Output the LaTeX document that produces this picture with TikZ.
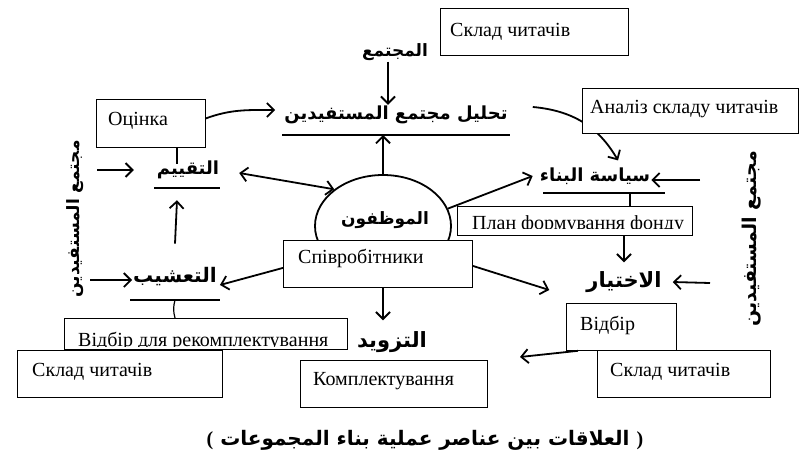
\documentclass[tikz,border=0pt]{standalone}
\usepackage{fontspec}
\setmainfont{Liberation Serif}
\newfontfamily\arabicfont[Script=Arabic, BoldFont={DejaVu Sans Bold}]{DejaVu Sans}
\TeXXeTstate=1
\usetikzlibrary{arrows.meta,shapes.geometric,calc}

\begin{document}
\begin{tikzpicture}[x=1pt, y=1pt,
    box/.style={draw, fill=white, line width=0.8pt, anchor=north west, inner sep=0pt},
    cyr/.style={anchor=base west, inner sep=0pt, font=\fontsize{20}{20}\selectfont},
    arab/.style={inner sep=1pt, font=\arabicfont\bfseries\fontsize{#1}{#1}\selectfont},
    conn/.style={line width=\linethic, -{Straight Barb[length=7pt, width=14pt]}},
    uline/.style={line width=1.2pt}]
    %--------------------%
    % Parameters
    %--------------------%
    \def\linethic{1.8pt}

    \useasboundingbox (0,0) rectangle (803,-455);

    %--------------------%
    % Staff circle
    %--------------------%
    \node[draw, ellipse, line width=\linethic, minimum width=136, minimum height=102, inner sep=0pt] (circ) at (383,-226) {};

    %--------------------%
    % Arabic labels
    %--------------------%
    \node[arab=17] (mujtama) at (395,-52) {\beginR المجتمع\endR};
    \node[arab=18] (tahlil) at (396,-115) {\beginR تحليل مجتمع المستفيدين\endR};
    \node[arab=18] (taqyim) at (188,-170) {\beginR التقييم\endR};
    \node[arab=17] (muwazzaf) at (385,-220) {\beginR الموظفون\endR};
    \node[arab=18] (siyasa) at (595,-176) {\beginR سياسة البناء\endR};
    \node[arab=20] (tashib) at (175,-277) {\beginR التعشيب\endR};
    \node[arab=21] (tazwid) at (392,-342) {\beginR التزويد\endR};
    \node[arab=21] (ikhtiyar) at (624,-282) {\beginR الاختيار\endR};
    \node[arab=17, rotate=90] (vleft) at (75,-219) {\beginR مجتمع المستفيدين\endR};
    \node[arab=19, rotate=90] (vright) at (752,-239) {\beginR مجتمع المستفيدين\endR};
    \node[arab=20] (title) at (425,-440) {{\rmfamily (}\ \beginR العلاقات بين عناصر عملية بناء المجموعات\endR\ {\rmfamily )}};

    % Underlines
    \coordinate (tahlilL) at (282,-135);  \coordinate (tahlilR) at (510,-135);
    \coordinate (taqyimL) at (154,-188);  \coordinate (taqyimR) at (220,-188);
    \coordinate (siyasaL) at (543,-193);  \coordinate (siyasaR) at (665,-193);
    \coordinate (tashibL) at (130,-300);  \coordinate (tashibR) at (220,-300);
    \coordinate (tashibM) at (175,-300);
    \draw[uline] (tahlilL) -- (tahlilR);
    \draw[uline] (taqyimL) -- (taqyimR);
    \draw[uline] (siyasaL) -- (siyasaR);
    \draw[uline] (tashibL) -- (tashibR);

    % Analysis to policy (runs behind the box)
    \draw[conn] ([xshift=24pt, yshift=8pt]tahlil.east) to[out=-5, in=120] ([xshift=23pt, yshift=6pt]siyasa.north);

    %--------------------%
    % Ukrainian boxes
    %--------------------%
    \node[box, minimum width=188, minimum height=47] (skladtopbox) at (440,-8) {};
    \node[box, minimum width=216, minimum height=45] (analizbox) at (582,-88) {};
    \node[box, minimum width=109, minimum height=48] (ocinkabox) at (96,-99) {};
    \node[box, minimum width=235, minimum height=29] (planbox) at (457,-206) {};
    \node[box, minimum width=189, minimum height=47] (spivrobbox) at (283,-240) {};
    \node[box, minimum width=283, minimum height=31] (vidbirrekbox) at (64,-318) {};
    \node[box, minimum width=205, minimum height=47] (skladleftbox) at (17,-350) {};
    \node[box, minimum width=187, minimum height=47] (komplbox) at (300,-360) {};
    \node[box, minimum width=110, minimum height=47] (vidbirbox) at (566,-303) {};
    \node[box, minimum width=173, minimum height=47] (skladrightbox) at (597,-350) {};

    \node[cyr] (skladtop) at (450,-36.5) {Склад читачів};
    \node[cyr] (analiz) at (590,-113) {Аналіз складу читачів};
    \node[cyr] (ocinka) at (108,-125) {Оцінка};
    \node[cyr] (spivrob) at (298,-263) {Співробітники};
    \node[cyr] (skladleft) at (32,-376) {Склад читачів};
    \node[cyr] (kompl) at (313,-385) {Комплектування};
    \node[cyr] (vidbir) at (580,-330) {Відбір};
    \node[cyr] (skladright) at (610,-376) {Склад читачів};
    \begin{scope}
        \clip (planbox.north west) rectangle ([yshift=7pt]planbox.south east);
        \node[cyr] (plan) at (472,-229) {План формування фонду};
    \end{scope}
    \begin{scope}
        \clip (vidbirrekbox.north west) rectangle ([yshift=3.5pt]vidbirrekbox.south east);
        \node[cyr] (vidbirrek) at (78,-346.5) {Відбір для рекомплектування};
    \end{scope}

    %--------------------%
    % Connections
    %--------------------%
    \coordinate (taqyimin) at (97,-170);
    \coordinate (tashibin) at (90,-280);
    \coordinate (siyasain) at (700,-180);
    \coordinate (ikhtiyarin) at (710,-283);
    \coordinate (vidbirout) at (520,-357);

    \draw[conn] ([xshift=-7pt]mujtama.south) -- ([xshift=-8pt]tahlil.north);
    \draw[conn] (circ.north) -- (circ.north |- tahlilL);
    \draw[conn] ([yshift=5pt]ocinkabox.east) to[out=20, in=180] ([xshift=-8pt, yshift=5pt]tahlil.west);
    \draw[conn, {Straight Barb[length=7pt, width=14pt]}-{Straight Barb[length=7pt, width=14pt]}] ([xshift=19pt, yshift=-3pt]taqyim.east) -- (circ.143);
    \draw[conn] (circ.15) -- ([xshift=-6pt]siyasa.west);
    \draw[conn] (siyasain) -- ([yshift=-4pt]siyasa.east);
    \draw[conn] (taqyimin) -- ([xshift=-22pt]taqyim.west);
    \draw[conn] (tashibin) -- ([yshift=-3pt]tashib.west);
    \draw[conn] (ikhtiyarin) -- ([xshift=10pt]ikhtiyar.east);
    \draw[conn] ([yshift=23pt]tashib.north) -- ([xshift=-11pt, yshift=-20pt]taqyim.south);
    \draw[conn] ([yshift=-4pt]spivrobbox.west) -- ([xshift=2pt, yshift=-8pt]tashib.east);
    \draw[conn] (spivrobbox.south -| circ.north) -- ([yshift=10pt]tazwid.north -| circ.north);
    \draw[conn] ([yshift=-2pt]spivrobbox.east) -- ([xshift=-36pt, yshift=-8pt]ikhtiyar.west);
    \draw[conn] (planbox.south -| ikhtiyar.north) -- ([yshift=8pt]ikhtiyar.north);
    \draw[conn] ([xshift=12pt]vidbirbox.south west) -- (vidbirout);

    % Ticks to the boxes
    \draw[uline] ([xshift=-11pt]taqyim.north |- ocinkabox.south) -- ([xshift=-11pt, yshift=-4pt]taqyim.north);
    \draw[uline] (tashibM) to[bend right=15] (tashibM |- vidbirrekbox.north);
    \draw[uline] ([xshift=-35pt]siyasaR) -- ([xshift=-35pt]siyasaR |- planbox.north);

\end{tikzpicture}
\end{document}
